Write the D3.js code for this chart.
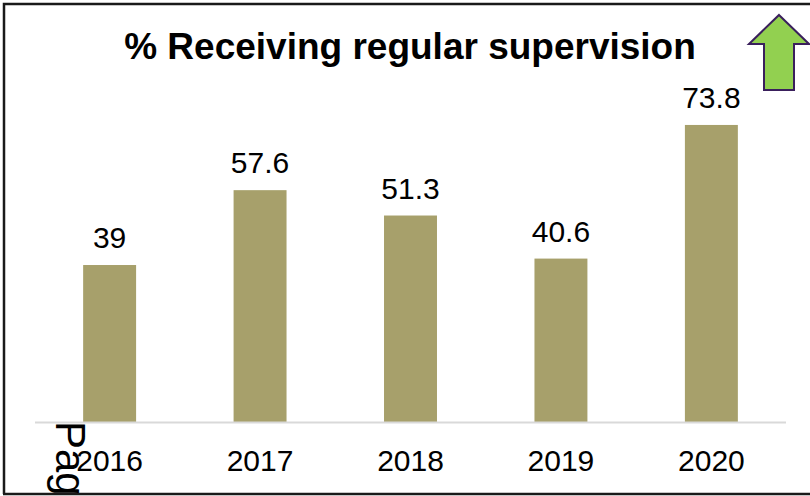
<!DOCTYPE html>
<html>
<head>
<meta charset="utf-8">
<script src="https://cdn.jsdelivr.net/npm/d3@7"></script>
<style>
  html, body { margin: 0; padding: 0; background: #fff; }
  svg { display: block; font-family: "Liberation Sans", Arial, sans-serif; }
</style>
</head>
<body>
<svg id="chart" width="810" height="496"></svg>
<script>
// Survey results by year
const years = ["2016", "2017", "2018", "2019", "2020"];
const pctSupervised = [39, 57.6, 51.3, 40.6, 73.8];
const chartTitle = "% Receiving regular supervision";

const svg = d3.select("#chart");
const W = 810, H = 496;

const x = d3.scaleBand()
  .domain(years)
  .range([35, 786])
  .paddingInner(0.648)
  .paddingOuter(0.32);

const y = d3.scaleLinear()
  .domain([0, 80])
  .range([422, 100]);

// frame (top, left, bottom edges)
svg.append("path")
  .attr("d", `M4,${H - 2} L4,4 L${W},4 M3,${H - 2} L${W},${H - 2}`)
  .attr("fill", "none")
  .attr("stroke", "#1a1a1a")
  .attr("stroke-width", 2.5);

// title
svg.append("text")
  .attr("x", 410)
  .attr("y", 59)
  .attr("text-anchor", "middle")
  .attr("font-size", 37)
  .attr("font-weight", "bold")
  .attr("fill", "#000")
  .text(chartTitle);

// upward arrow marker
const arrow = d3.path();
arrow.moveTo(779, 15);
arrow.lineTo(809, 44);
arrow.lineTo(794, 44);
arrow.lineTo(794, 90);
arrow.lineTo(764, 90);
arrow.lineTo(764, 44);
arrow.lineTo(749, 44);
arrow.closePath();
svg.append("path")
  .attr("d", arrow.toString())
  .attr("fill", "#92D050")
  .attr("stroke", "#3a1f5c")
  .attr("stroke-width", 2)
  .attr("stroke-linejoin", "miter");

const data = years.map((yr, i) => ({ yr, v: pctSupervised[i] }));

// bars
svg.append("g").selectAll("rect")
  .data(data)
  .join("rect")
  .attr("x", d => x(d.yr))
  .attr("y", d => y(d.v))
  .attr("width", x.bandwidth())
  .attr("height", d => y(0) - y(d.v))
  .attr("fill", "#A7A06B");

// value labels
svg.append("g").selectAll("text")
  .data(data)
  .join("text")
  .attr("x", d => x(d.yr) + x.bandwidth() / 2)
  .attr("y", d => y(d.v) - 17)
  .attr("text-anchor", "middle")
  .attr("font-size", 30)
  .attr("fill", "#000")
  .text(d => String(d.v));

// category axis
const axis = svg.append("g")
  .attr("transform", `translate(0,${y(0)})`)
  .call(d3.axisBottom(x).tickSize(0).tickPadding(0));
axis.select(".domain")
  .attr("d", `M35,0.5H786`)
  .attr("stroke", "#d9d9d9")
  .attr("stroke-width", 2);
axis.selectAll(".tick text")
  .attr("font-family", "Liberation Sans, Arial, sans-serif")
  .attr("font-size", 30)
  .attr("fill", "#000")
  .attr("dy", null)
  .attr("y", 49);

// stray vertical page label, clipped by the frame
svg.append("clipPath").attr("id", "frameClip")
  .append("rect").attr("x", 0).attr("y", 0).attr("width", W).attr("height", H - 3);
svg.append("g")
  .attr("clip-path", "url(#frameClip)")
  .append("text")
  .attr("transform", "translate(56,421) rotate(90)")
  .attr("font-size", 42)
  .attr("fill", "#000")
  .text("Pag");
</script>
</body>
</html>
